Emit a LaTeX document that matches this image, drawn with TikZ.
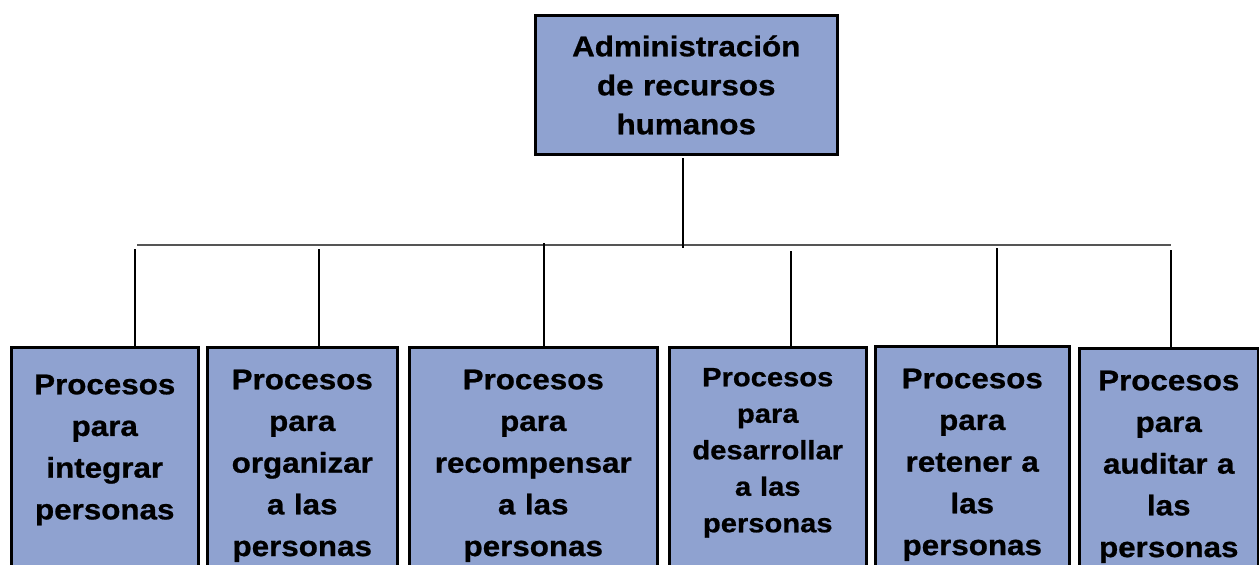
\documentclass[tikz,border=0pt]{standalone}
\usepackage{fontspec}
\newfontfamily\boxfont{Liberation Sans}[FakeStretch=1.10,BoldFeatures={FakeBold=0.8}]
\definecolor{boxblue}{RGB}{143,162,208}
\definecolor{busgray}{RGB}{85,85,85}
\tikzset{
  procbox/.style={draw=black, line width=2.5pt, fill=boxblue, anchor=north west,
    inner xsep=2pt, inner ysep=0pt, align=center, text depth=320pt,
    font=\boxfont\bfseries\fontsize{28.5}{41.7}\selectfont},
  link/.style={draw=black, line width=1.2pt},
  bus/.style={draw=busgray, line width=1.6pt}
}
\begin{document}
\begin{tikzpicture}[x=1pt,y=-1pt]
\useasboundingbox (0,0) rectangle (1259,565);
\clip (0,0) rectangle (1259,565);
% top box
\node[procbox, minimum width=302pt, text width=296pt, text height=41pt, text depth=98pt,
  font=\boxfont\bfseries\fontsize{28.5}{39}\selectfont] (top) at (534,14)
  {Administración\\de recursos\\humanos};
% bottom boxes
\node[procbox, minimum width=187pt, text width=181pt, text height=47pt] (b1) at (10,346)
  {Procesos\\para\\integrar\\personas};
\node[procbox, minimum width=190pt, text width=184pt, text height=42pt] (b2) at (206,346)
  {Procesos\\para\\organizar\\a las\\personas};
\node[procbox, minimum width=248pt, text width=242pt, text height=42pt] (b3) at (408,346)
  {Procesos\\para\\recompensar\\a las\\personas};
\node[procbox, minimum width=197pt, text width=191pt, text height=39pt,
  font=\boxfont\bfseries\fontsize{26.5}{36.5}\selectfont] (b4) at (668,346)
  {Procesos\\para\\desarrollar\\a las\\personas};
\node[procbox, minimum width=194pt, text width=188pt, text height=42pt] (b5) at (874,345)
  {Procesos\\para\\retener a\\las\\personas};
\node[procbox, minimum width=179pt, text width=173pt, text height=42pt] (b6) at (1078,347)
  {Procesos\\para\\auditar a\\las\\personas};
% bus
\coordinate (topstart) at (683,158);
\coordinate (hub) at (683,248);
\coordinate (busL) at (137,245);
\coordinate (busR) at (1171,245);
\draw[bus] (busL) -- (busR);
\draw[link] (topstart) -- (hub);
\coordinate (t1) at (135,249);
\coordinate (t2) at (319,249);
\coordinate (t3) at (544,243);
\coordinate (t4) at (791,251);
\coordinate (t5) at (997,248);
\coordinate (t6) at (1171,250);
\draw[link] (t1) -- (t1 |- b1.north);
\draw[link] (t2) -- (t2 |- b2.north);
\draw[link] (t3) -- (t3 |- b3.north);
\draw[link] (t4) -- (t4 |- b4.north);
\draw[link] (t5) -- (t5 |- b5.north);
\draw[link] (t6) -- (t6 |- b6.north);
\end{tikzpicture}
\end{document}
